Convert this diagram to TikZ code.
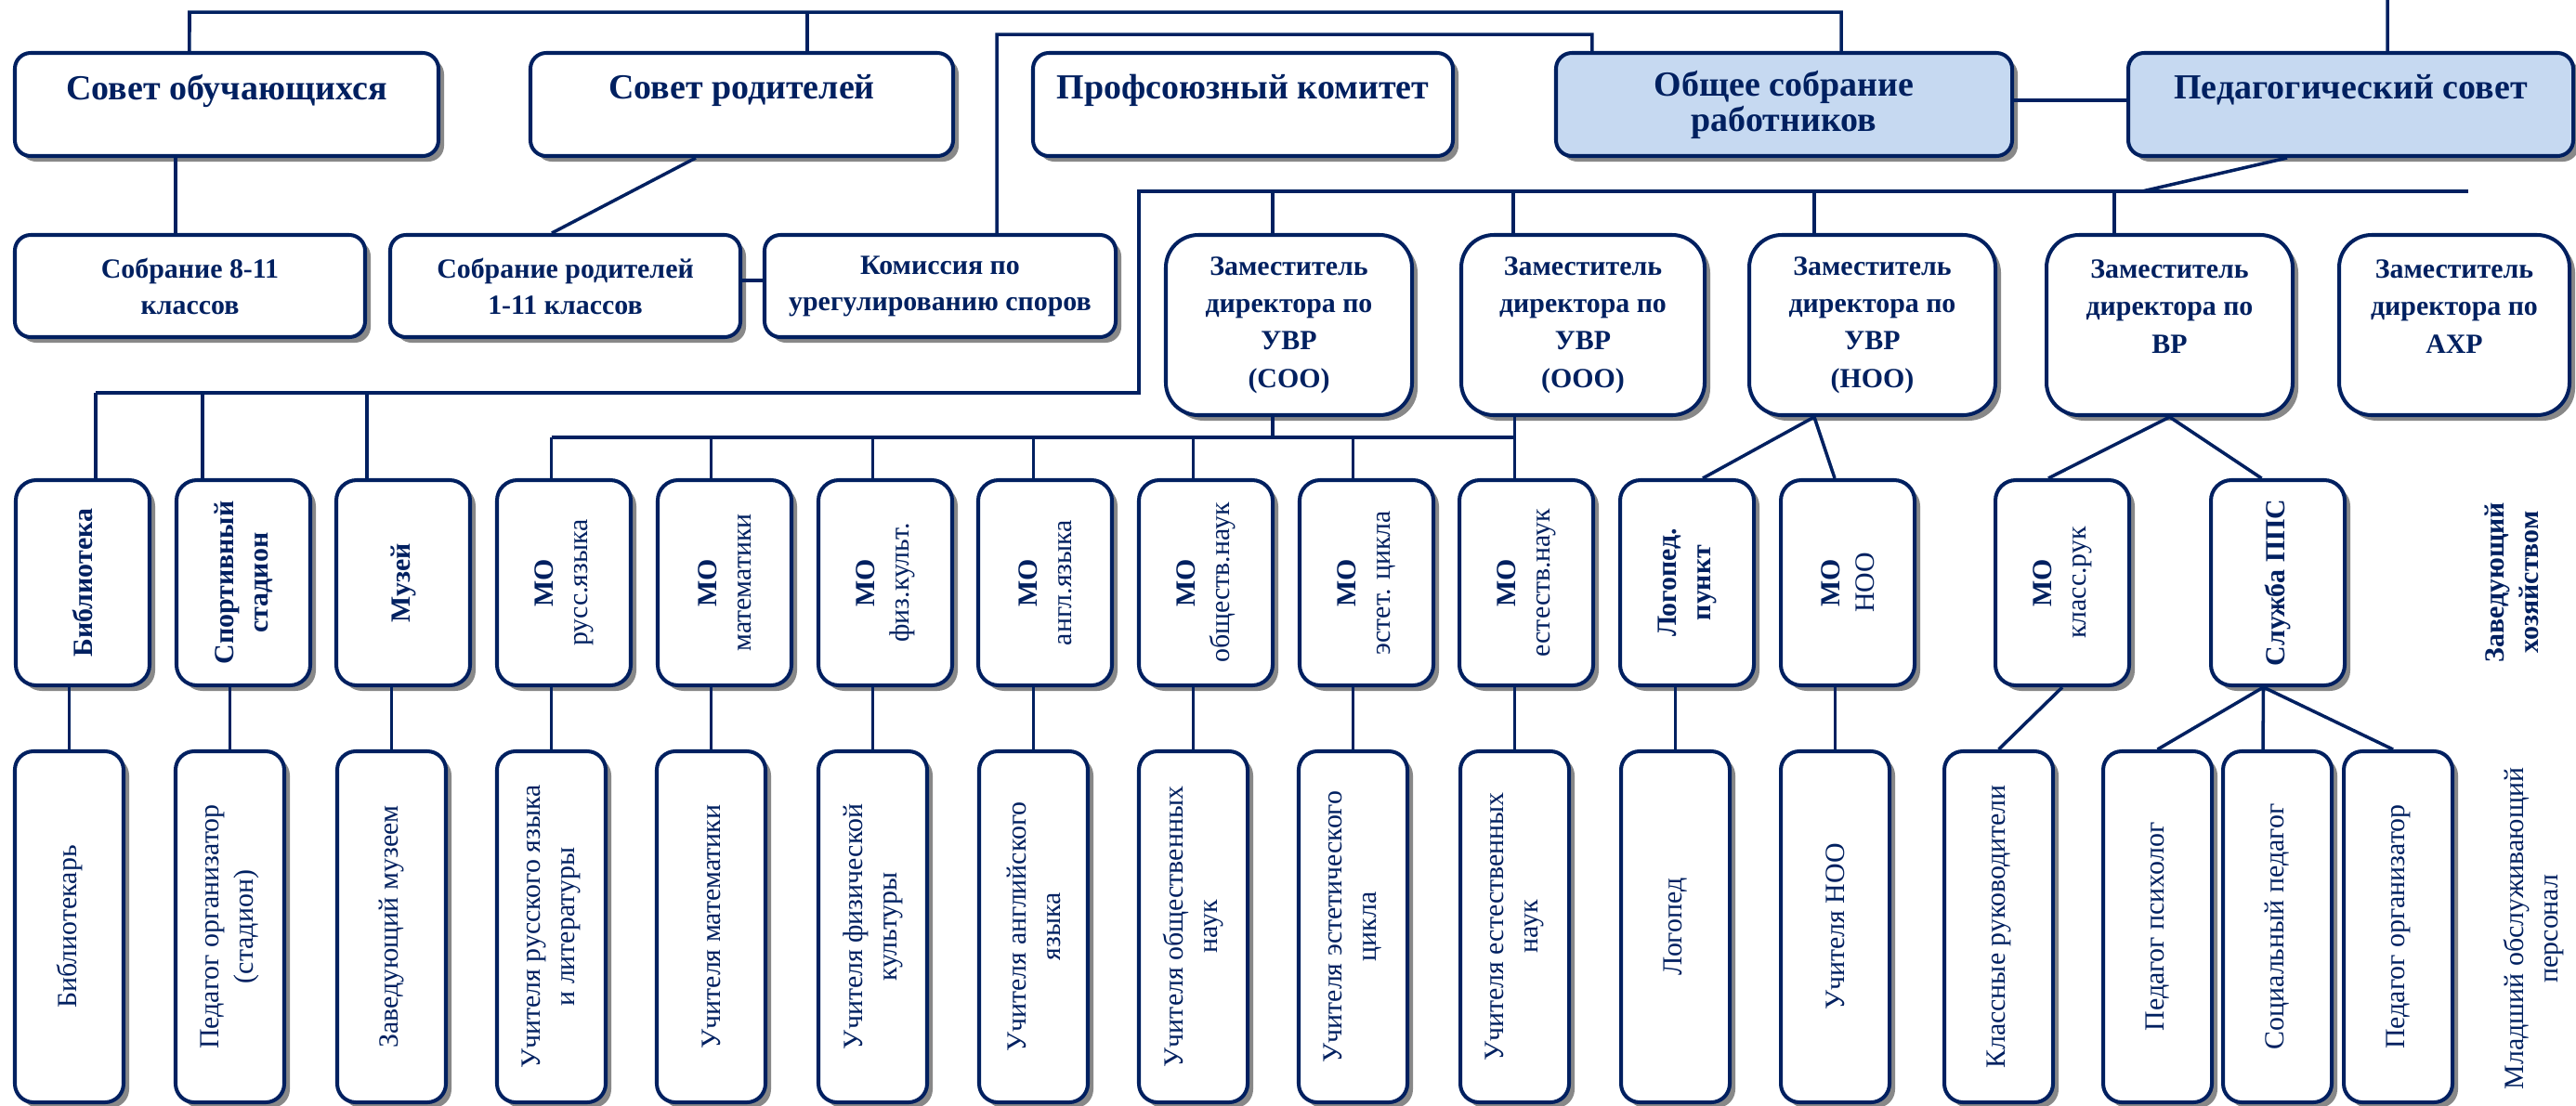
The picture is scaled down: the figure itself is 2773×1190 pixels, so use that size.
\documentclass[tikz,border=0pt]{standalone}
\usepackage{fontspec}
\setmainfont{Liberation Serif}
\usetikzlibrary{shadows}
\definecolor{navy}{HTML}{002060}
\definecolor{lblue}{HTML}{C6D9F1}
\definecolor{shgray}{HTML}{888888}
\newcommand{\orgbox}[7]{%
  \pgfmathsetmacro\obw{(#5-#3)*0.01}%
  \pgfmathsetmacro\obh{(#6-#4)*0.01}%
  \node[#1, minimum width=\obw cm, minimum height=\obh cm] (#2) at ({(#3+#5)/2},{(#4+#6)/2}) {#7};}
\tikzset{
  obox/.style={draw=navy, line width=1.15pt, fill=white, text=navy, align=center, inner sep=0pt,
    drop shadow={shadow xshift=0.06cm, shadow yshift=-0.06cm, fill=shgray, opacity=1}},
  topbox/.style={obox, rounded corners=0.17cm, font=\fontsize{10.8}{10.8}\selectfont\bfseries},
  midbox/.style={obox, rounded corners=0.17cm, font=\fontsize{8.5}{11.1}\selectfont\bfseries},
  depbox/.style={obox, rounded corners=0.35cm, font=\fontsize{8.5}{11.5}\selectfont\bfseries},
  mbox/.style={obox, rounded corners=0.22cm},
  lbox/.style={obox, rounded corners=0.2cm},
  vtxt/.style={text=navy, align=center, inner sep=0pt, rotate=90, font=\fontsize{8.5}{10.5}\selectfont},
  conn/.style={draw=navy, line width=1pt},
  bus/.style={draw=navy, line width=1.3pt},
}
\begin{document}
\begin{tikzpicture}[x=0.01cm, y=-0.01cm]
\useasboundingbox (0,0) rectangle (2773,1190);
% row 1
\orgbox{topbox}{so}{16}{57}{472}{168}{Совет обучающихся\\~}
\orgbox{topbox}{sr}{571}{57}{1026}{168}{Совет родителей\\~}
\orgbox{topbox}{pk}{1112}{57}{1564}{168}{Профсоюзный комитет\\~}
\orgbox{topbox,fill=lblue}{os}{1675}{57}{2166}{168}{Общее собрание\\работников}
\orgbox{topbox,fill=lblue}{ps}{2291}{57}{2770}{168}{Педагогический совет\\~}
% row 2
\orgbox{midbox}{s811}{16}{253}{393}{363}{Собрание 8-11\\классов}
\orgbox{midbox}{sp}{420}{253}{797}{363}{Собрание родителей\\1-11 классов}
\orgbox{midbox}{kom}{823}{253}{1201}{363}{Комиссия по\\урегулированию споров}
% deputies
\orgbox{depbox}{d1}{1255}{253}{1520}{447}{Заместитель\\директора по\\УВР\\(СОО)}
\orgbox{depbox}{d2}{1573}{253}{1835}{447}{Заместитель\\директора по\\УВР\\(ООО)}
\orgbox{depbox}{d3}{1883}{253}{2148}{447}{Заместитель\\директора по\\УВР\\(НОО)}
\orgbox{depbox}{d4}{2203}{253}{2468}{447}{Заместитель\\директора по\\ВР\\~}
\orgbox{depbox}{d5}{2518}{253}{2766}{447}{Заместитель\\директора по\\АХР\\~}
% row 3
\foreach \i/\lx/\txt in {
  0/17/{\textbf{Библиотека}},
  1/190/{\textbf{Спортивный}\\\textbf{стадион}},
  2/362/{\textbf{Музей}},
  3/535/{\textbf{МО}\\русс.языка},
  4/708/{\textbf{МО}\\математики},
  5/881/{\textbf{МО}\\физ.культ.},
  6/1053/{\textbf{МО}\\англ.языка},
  7/1226/{\textbf{МО}\\обществ.наук},
  8/1399/{\textbf{МО}\\эстет. цикла},
  9/1571/{\textbf{МО}\\естеств.наук},
  10/1744/{\textbf{Логопед.}\\\textbf{пункт}},
  11/1917/{\textbf{МО}\\НОО},
  12/2148/{\textbf{МО}\\класс.рук},
  13/2380/{\textbf{Служба ППС}}}{
  \orgbox{mbox}{r3-\i}{\lx}{517}{\lx+144}{738}{}
  \node[vtxt] (t3-\i) at (r3-\i) {\txt};
}
% row 4
\foreach \i/\lx/\txt in {
  0/16/{Библиотекарь},
  1/189/{Педагог организатор\\(стадион)},
  2/363/{Заведующий музеем},
  3/535/{Учителя русского языка\\и литературы},
  4/707/{Учителя математики},
  5/881/{Учителя физической\\культуры},
  6/1054/{Учителя английского\\языка},
  7/1226/{Учителя общественных\\наук},
  8/1398/{Учителя эстетического\\цикла},
  9/1572/{Учителя естественных\\наук},
  10/1745/{Логопед},
  11/1917/{Учителя НОО},
  12/2093/{Классные руководители},
  13/2264/{Педагог психолог},
  14/2393/{Социальный педагог},
  15/2523/{Педагог организатор}}{
  \orgbox{lbox}{r4-\i}{\lx}{809}{\lx+117}{1187}{}
  \node[vtxt] (t4-\i) at (r4-\i) {\txt};
}
% free texts
\node[vtxt, font=\fontsize{8.5}{10.5}\selectfont\bfseries] (zx) at (2704,627) {Заведующий\\хозяйством};
\node[vtxt] (ml) at (2727,1000) {Младший обслуживающий\\персонал};
% top connectors
\coordinate (tA) at (204,13);
\coordinate (tB) at (1073,37);
\coordinate (tC) at (2570,0);
\draw[conn] ([xshift=-0.40cm]so.north) -- (tA) -| ([xshift=0.615cm]os.north);
\draw[conn] ([xshift=0.705cm]sr.north) -- ([xshift=0.705cm]sr.north |- tA);
\draw[conn] ([xshift=0.61cm]kom.north) -- (tB) -| ([xshift=-2.065cm]os.north);
\draw[conn] ([yshift=0.045cm]os.east) -- ([yshift=0.045cm]ps.west);
\draw[conn] ([xshift=0.395cm]ps.north) -- (tC);
\draw[conn] ([xshift=-0.155cm]s811.north) -- ([xshift=-0.155cm]s811.north |- so.south);
\draw[conn] ([xshift=-0.495cm]sr.south) -- ([xshift=-0.145cm]sp.north);
\draw[conn] ([yshift=0.06cm]sp.east) -- ([yshift=0.06cm]kom.west);
% bus A
\coordinate (bA1) at (1226,206);
\coordinate (bA2) at (2657,206);
\coordinate (bAj) at (2306,206);
\coordinate (bC) at (1226,423);
\coordinate (bC2) at (103,423);
\draw[bus] (bA2) -- (bA1) -- (bC) -- (bC2);
\draw[conn] ([xshift=-0.685cm]ps.south) -- (bAj);
\draw[conn] ([xshift=-0.175cm]d1.north) -- ([xshift=-0.175cm]d1.north |- bA1);
\draw[conn] ([xshift=-0.75cm]d2.north) -- ([xshift=-0.75cm]d2.north |- bA1);
\draw[conn] ([xshift=-0.625cm]d3.north) -- ([xshift=-0.625cm]d3.north |- bA1);
\draw[conn] ([xshift=-0.595cm]d4.north) -- ([xshift=-0.595cm]d4.north |- bA1);
\draw[conn] ([xshift=0.14cm]r3-0.north) -- ([xshift=0.14cm]r3-0.north |- bC);
\draw[conn] ([xshift=-0.44cm]r3-1.north) -- ([xshift=-0.44cm]r3-1.north |- bC);
\draw[conn] ([xshift=-0.39cm]r3-2.north) -- ([xshift=-0.39cm]r3-2.north |- bC);
% bus B
\coordinate (bB1) at (593.5,471);
\coordinate (bB2) at (1630.5,471);
\draw[bus] (bB1) -- (bB2);
\draw[conn] ([xshift=-0.175cm]d1.south) -- ([xshift=-0.175cm]d1.south |- bB1);
\draw[conn] ([xshift=-0.735cm]d2.south) -- ([xshift=-0.735cm]d2.south |- r3-9.north);
\foreach \i in {3,...,8}{
  \draw[conn] (r4-\i.north |- bB1) -- (r4-\i.north |- r3-\i.north);
}
\foreach \i in {0,...,11}{
  \draw[conn] (r4-\i.north) -- (r4-\i.north |- r3-\i.south);
}
% deputies NOO and VR
\draw[conn] ([xshift=-0.625cm]d3.south) -- ([xshift=0.17cm]r3-10.north);
\draw[conn] ([xshift=-0.625cm]d3.south) -- ([xshift=-0.14cm]r3-11.north);
\draw[conn] (d4.south) -- ([xshift=-0.15cm]r3-12.north);
\draw[conn] (d4.south) -- ([xshift=-0.175cm]r3-13.north);
\draw[conn] (r3-12.south) -- (r4-12.north);
\draw[conn] ([xshift=-0.155cm]r3-13.south) -- (r4-13.north);
\draw[conn] ([xshift=-0.155cm]r3-13.south) -- ([xshift=-0.155cm]r4-14.north);
\draw[conn] ([xshift=-0.155cm]r3-13.south) -- ([xshift=-0.055cm]r4-15.north);
\end{tikzpicture}
\end{document}
